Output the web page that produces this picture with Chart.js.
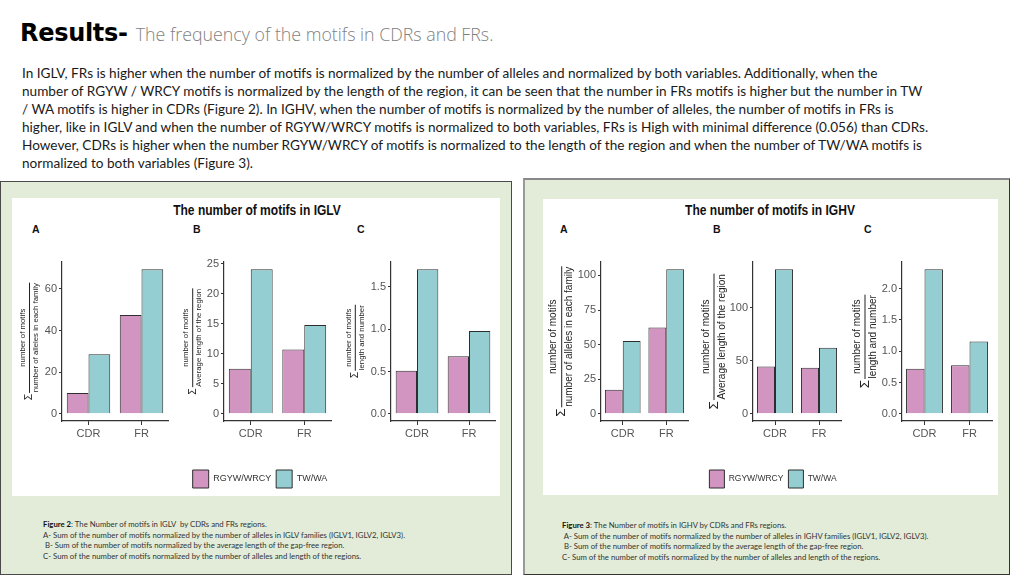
<!DOCTYPE html>
<html>
<head>
<meta charset="utf-8">
<script src="https://cdn.jsdelivr.net/npm/chart.js@4.4.1/dist/chart.umd.min.js"></script>
<style>
  body { margin:0; width:1024px; height:576px; position:relative; background:#fff; overflow:hidden; font-family: Lato, 'Open Sans', sans-serif; }
  .abs { position:absolute; }
  #head { left:20px; top:19px; white-space:nowrap; }
  #head b { font-family:'DejaVu Sans', sans-serif; font-weight:bold; font-size:24px; color:#000; letter-spacing:-0.3px; }
  #head span { font-family:'Open Sans', sans-serif; font-weight:300; font-size:17.8px; color:#7f7f7f; margin-left:8px; }
  #para { left:22px; top:64px; font-size:13.6px; line-height:18px; color:#1a1a1a; white-space:nowrap; }
  .panel { background:#e2ecd8; box-sizing:border-box; }
  .white { background:#fff; }
  .ftitle { font-family:'Liberation Sans',Arial,sans-serif; font-weight:bold; font-size:14px; color:#111; transform:translateX(-50%) scaleX(0.86); white-space:nowrap; }
  .lab { font-family:'Liberation Sans',Arial,sans-serif; font-weight:bold; font-size:10.5px; color:#111; }
  .cap { font-size:7.75px; line-height:10.6px; color:#333; white-space:pre; }
  .cap b { font-weight:bold; color:#111; }
  canvas { position:absolute; }
</style>
</head>
<body>
<div id="head" class="abs"><b>Results-</b><span>The frequency of the motifs in CDRs and FRs.</span></div>
<div id="para" class="abs">
In IGLV, FRs is higher when the number of motifs is normalized by the number of alleles and normalized by both variables. Additionally, when the<br>
number of RGYW / WRCY motifs is normalized by the length of the region, it can be seen that the number in FRs motifs is higher but the number in TW<br>
/ WA motifs is higher in CDRs (Figure 2). In IGHV, when the number of motifs is normalized by the number of alleles, the number of motifs in FRs is<br>
higher, like in IGLV and when the number of RGYW/WRCY motifs is normalized to both variables, FRs is High with minimal difference (0.056) than CDRs.<br>
However, CDRs is higher when the number RGYW/WRCY of motifs is normalized to the length of the region and when the number of TW/WA motifs is<br>
normalized to both variables (Figure 3).
</div>

<div class="abs panel" style="left:0;top:181px;width:512px;height:394px;border:1.5px solid #4a4a4a;"></div>
<div class="abs white" style="left:12px;top:198px;width:488px;height:298px;"></div>
<div class="abs panel" style="left:523px;top:178px;width:487px;height:397px;border:1.5px solid #333;border-left:2px solid #999;border-top:2px solid #888;"></div>
<div class="abs white" style="left:543px;top:199px;width:455px;height:296px;"></div>

<div class="abs ftitle" style="left:257px;top:202px;">The number of motifs in IGLV</div>
<div class="abs lab" style="left:32px;top:223px;">A</div>
<div class="abs lab" style="left:193px;top:223px;">B</div>
<div class="abs lab" style="left:357px;top:223px;">C</div>
<div class="abs ftitle" style="left:770px;top:202px;">The number of motifs in IGHV</div>
<div class="abs lab" style="left:560px;top:223px;">A</div>
<div class="abs lab" style="left:713px;top:223px;">B</div>
<div class="abs lab" style="left:864px;top:223px;">C</div>

<canvas id="lA" width="158" height="250" style="left:12px;top:250px;"></canvas>
<canvas id="lB" width="164" height="250" style="left:172px;top:250px;"></canvas>
<canvas id="lC" width="162" height="250" style="left:335px;top:250px;"></canvas>
<canvas id="rA" width="147" height="250" style="left:543px;top:250px;"></canvas>
<canvas id="rB" width="156" height="250" style="left:690px;top:250px;"></canvas>
<canvas id="rC" width="149" height="250" style="left:845px;top:250px;"></canvas>

<div class="abs cap" style="left:43px;top:519px;"><b>Figure 2</b>: The Number of motifs in IGLV  by CDRs and FRs regions.
A- Sum of the number of motifs normalized by the number of alleles in IGLV families (IGLV1, IGLV2, IGLV3).
 B- Sum of the number of motifs normalized by the average length of the gap-free region.
C- Sum of the number of motifs normalized by the number of alleles and length of the regions.</div>
<div class="abs cap" style="left:562px;top:520px;"><b>Figure 3</b>: The Number of motifs in IGHV by CDRs and FRs regions.
 A- Sum of the number of motifs normalized by the number of alleles in IGHV families (IGLV1, IGLV2, IGLV3).
 B- Sum of the number of motifs normalized by the average length of the gap-free region.
C- Sum of the number of motifs normalized by the number of alleles and length of the regions.</div>

<script>
const categories = ['CDR', 'FR'];
const seriesNames = ['RGYW/WRCY', 'TW/WA'];

// IGLV (figure 2)
const iglvA_rgyw = [10, 47.5];
const iglvA_twwa = [28.6, 69.5];
const iglvB_rgyw = [7.5, 10.7];
const iglvB_twwa = [24.1, 14.8];
const iglvC_rgyw = [0.51, 0.68];
const iglvC_twwa = [1.71, 0.98];

// IGHV (figure 3)
const ighvA_rgyw = [17.3, 62.4];
const ighvA_twwa = [52.7, 104.5];
const ighvB_rgyw = [44.5, 43.3];
const ighvB_twwa = [136, 62.2];
const ighvC_rgyw = [0.72, 0.776];
const ighvC_twwa = [2.31, 1.155];

// tick labels
const iglvA_ticks = [0, 20, 40, 60];
const iglvB_ticks = [0, 5, 10, 15, 20, 25];
const iglvC_ticks = [0, 0.5, 1.0, 1.5];
const ighvA_ticks = [0, 25, 50, 75, 100];
const ighvB_ticks = [0, 50, 100];
const ighvC_ticks = [0, 0.5, 1.0, 1.5, 2.0];

const numText = 'number of motifs';
const denA = 'number of alleles in each family';
const denB = 'Average length of the region';
const denC = 'length and number';

const pink = '#d295c2';
const teal = '#94ced2';
const edge = '#2e2e2e';
const narrow = "'Liberation Sans Narrow','Liberation Sans',Arial,sans-serif";
const plain = "'Liberation Sans',Arial,sans-serif";

// y axis title written as a sum over a fraction, rotated like the ggplot one
const fracTitle = {
  id: 'fracTitle',
  afterDraw(chart, args, o) {
    const ctx = chart.ctx, ca = chart.chartArea;
    ctx.save();
    ctx.translate(o.x, (ca.top + ca.bottom) / 2);
    ctx.rotate(-Math.PI / 2);
    ctx.fillStyle = '#222';
    ctx.font = o.size + 'px ' + o.family;
    const barLen = Math.max(ctx.measureText(o.num).width, ctx.measureText(o.den).width) + 1;
    ctx.font = (o.size * 1.35) + 'px ' + o.family;
    const wSig = ctx.measureText('\u03A3').width;
    const u0 = -(wSig + 1 + barLen) / 2;
    ctx.textAlign = 'left';
    ctx.textBaseline = 'middle';
    ctx.fillText('\u03A3', u0, 0);
    const b0 = u0 + wSig + 1;
    ctx.fillRect(b0, -0.5, barLen, 1);
    ctx.font = o.size + 'px ' + o.family;
    ctx.textAlign = 'center';
    ctx.textBaseline = 'bottom';
    ctx.fillText(o.num, b0 + barLen / 2, -o.gap);
    ctx.textBaseline = 'top';
    ctx.fillText(o.den, b0 + barLen / 2, o.gap);
    ctx.restore();
  }
};

function makeChart(id, rgyw, twwa, ticks, decimals, frac, c) {
  const top = Math.max(...rgyw, ...twwa);
  const legendOn = !!c.legend;
  const scales = {
    x: {
      offset: true,
      border: { display: true, color: '#333', width: 1.2 },
      grid: { display: true, drawOnChartArea: false, drawTicks: true, tickLength: 4, color: '#333', offset: false },
      ticks: { color: '#555', padding: 2, font: { family: narrow, size: c.fs } },
      afterFit(s) { s.height = 24; }
    },
    y: {
      min: -0.05 * top,
      max: 1.05 * top,
      border: { display: true, color: '#333', width: 1.2 },
      grid: { display: true, drawOnChartArea: false, drawTicks: true, tickLength: 3, color: '#333' },
      ticks: { color: '#555', padding: 2, font: { family: narrow, size: c.fs },
               callback: v => v.toFixed(decimals) },
      afterBuildTicks(s) { s.ticks = ticks.map(v => ({ value: v })); },
      afterFit(s) { s.width = c.yw; }
    }
  };
  if (legendOn) {
    // empty spacer on the right so the legend row can be wider than the plot
    scales.yr = {
      type: 'linear', position: 'right', display: true,
      grid: { display: false }, border: { display: false }, ticks: { display: false },
      afterFit(s) { s.width = c.extra; }
    };
  }
  new Chart(document.getElementById(id), {
    type: 'bar',
    data: {
      labels: categories,
      datasets: [
        { label: seriesNames[0], data: rgyw, backgroundColor: pink, borderColor: edge, borderWidth: 1, yAxisID: 'y' },
        { label: seriesNames[1], data: twwa, backgroundColor: teal, borderColor: edge, borderWidth: 1, yAxisID: 'y' }
      ]
    },
    options: {
      responsive: false,
      animation: false,
      categoryPercentage: 0.82,
      barPercentage: 1,
      layout: { padding: { left: c.pl, right: legendOn ? 0 : 2, top: 12, bottom: legendOn ? 2 : 55 } },
      scales: scales,
      plugins: {
        tooltip: { enabled: false },
        legend: {
          display: legendOn,
          position: 'bottom',
          title: { display: true, text: '', padding: { top: 8, bottom: 0 }, font: { size: 10 } },
          labels: { boxWidth: c.bw || 16, boxHeight: 18, padding: 5, color: '#333', font: { family: plain, size: c.lf || 9 } }
        },
        fracTitle: frac
      }
    },
    plugins: [fracTitle]
  });
}

// IGLV
makeChart('lA', iglvA_rgyw, iglvA_twwa, iglvA_ticks, 0,
  { x: 17.5, size: 7.8, gap: 2.5, family: narrow, num: numText, den: denA }, { pl: 22, yw: 28, fs: 11 });
makeChart('lB', iglvB_rgyw, iglvB_twwa, iglvB_ticks, 0,
  { x: 20.7, size: 7.8, gap: 2.5, family: narrow, num: numText, den: denB }, { pl: 12, yw: 40, fs: 11, legend: true, extra: 5, lf: 9, bw: 16 });
makeChart('lC', iglvC_rgyw, iglvC_twwa, iglvC_ticks, 1,
  { x: 20.3, size: 7.8, gap: 2.5, family: narrow, num: numText, den: denC }, { pl: 28, yw: 28, fs: 11 });

// IGHV
makeChart('rA', ighvA_rgyw, ighvA_twwa, ighvA_ticks, 0,
  { x: 18.7, size: 10, gap: 3, family: plain, num: numText, den: denA }, { pl: 30, yw: 28, fs: 11 });
makeChart('rB', ighvB_rgyw, ighvB_twwa, ighvB_ticks, 0,
  { x: 24, size: 10, gap: 3, family: plain, num: numText, den: denB }, { pl: 10, yw: 53, fs: 11, legend: true, extra: 5, lf: 8.5, bw: 15 });
makeChart('rC', ighvC_rgyw, ighvC_twwa, ighvC_ticks, 1,
  { x: 20, size: 10, gap: 3, family: plain, num: numText, den: denC }, { pl: 29, yw: 28, fs: 11 });
</script>
</body>
</html>
